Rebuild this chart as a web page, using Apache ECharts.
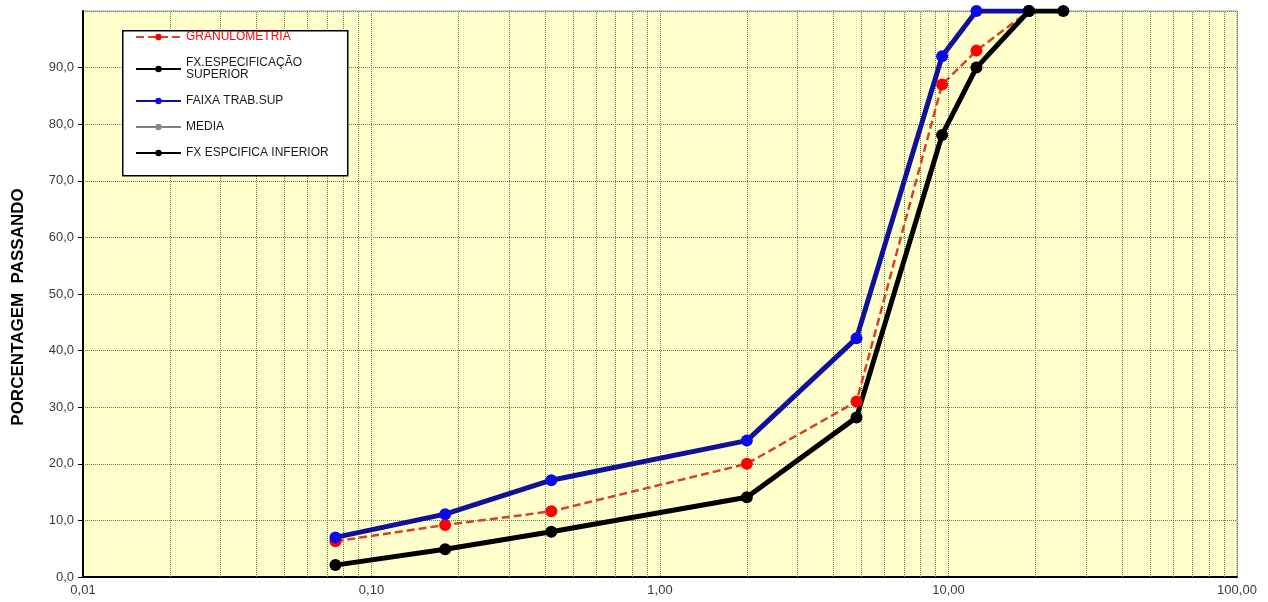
<!DOCTYPE html>
<html><head><meta charset="utf-8">
<script src="https://cdn.jsdelivr.net/npm/echarts@6/dist/echarts.min.js"></script>
<style>html,body{margin:0;padding:0;background:#fff}#c{width:1268px;height:602px}</style>
</head><body><div id="c"></div>
<script>
var sieveSizes = [0.075, 0.18, 0.42, 2.0, 4.8, 9.5, 12.5, 19, 25];
var granulometria = [6.3, 9.2, 11.6, 20.0, 31.0, 87.0, 93.0, 100.0, null];
var fxEspSuperior = [];
var faixaTrabSup = [7.0, 11.1, 17.1, 24.1, 42.2, 92.0, 100.0, 100.0, null];
var media = [];
var fxEspInferior = [2.1, 4.9, 8.0, 14.1, 28.2, 78.1, 90.0, 100.0, 100.0];
var seriesNames = ['GRANULOMETRIA', 'FX.ESPECIFICAÇÃO\nSUPERIOR', 'FAIXA TRAB.SUP', 'MEDIA', 'FX ESPCIFICA INFERIOR'];
var minorMultipliers = [2, 3, 4, 5, 6, 7, 8, 9];
var decades = [0.01, 0.1, 1, 10];

function pairs(vals) {
  var out = [];
  for (var i = 0; i < vals.length; i++) if (vals[i] != null) out.push([sieveSizes[i], vals[i]]);
  return out;
}
var minorLines = [];
decades.forEach(function (d) { minorMultipliers.forEach(function (m) { minorLines.push({ xAxis: +(d * m).toPrecision(3) }); }); });

var gridColor = '#5e7f4e';
var font = 'Liberation Sans, Arial, sans-serif';
var chart = echarts.init(document.getElementById('c'));
chart.setOption({
  animation: false,
  backgroundColor: '#ffffff',
  grid: { left: 83, right: 31, top: 11, bottom: 25, show: true, backgroundColor: '#ffffcc', borderColor: '#a0a0a0', borderWidth: 1, containLabel: false },
  xAxis: {
    type: 'log', logBase: 10, min: 0.01, max: 100,
    axisLine: { show: true, onZero: false, lineStyle: { color: '#000', width: 2 } },
    axisTick: { show: false },
    axisLabel: { color: '#3a3a3a', fontFamily: font, fontSize: 13, margin: 7,
      formatter: function (v) { return v.toFixed(2).replace('.', ','); } },
    splitLine: { show: true, lineStyle: { color: gridColor, type: 'dotted', width: 1 } }
  },
  yAxis: {
    type: 'value', min: 0, max: 100, interval: 10,
    name: 'PORCENTAGEM  PASSANDO', nameLocation: 'middle', nameGap: 56,
    nameTextStyle: { fontFamily: font, fontSize: 17, fontWeight: 'bold', color: '#000', padding: [0, 26, 0, 0] },
    axisLine: { show: true, lineStyle: { color: '#000', width: 2 } },
    axisTick: { show: true, length: 5, lineStyle: { color: '#000' } },
    axisLabel: { color: '#3a3a3a', fontFamily: font, fontSize: 13, margin: 9, showMaxLabel: false,
      formatter: function (v) { return v.toFixed(1).replace('.', ','); } },
    splitLine: { show: true, lineStyle: { color: gridColor, type: 'dotted', width: 1 } }
  },
  graphic: [{ type: 'rect', left: 122, top: 30, z: 10, shape: { width: 225, height: 145 },
    style: { fill: '#ffffff', stroke: '#000000', lineWidth: 1.5 } }],
  legend: {
    orient: 'vertical', left: 135, top: 31, padding: 0, itemGap: 14, z: 11,
    itemWidth: 45, itemHeight: 8,
    textStyle: { fontFamily: font, fontSize: 12, color: '#1a1a1a', lineHeight: 12, padding: [0, 0, 0, 0] },
    data: [
      { name: seriesNames[0], textStyle: { color: '#ff0000' } },
      { name: seriesNames[1] },
      { name: seriesNames[2] },
      { name: seriesNames[3] },
      { name: seriesNames[4] }
    ]
  },
  series: [
    { type: 'line', silent: true, data: [], symbol: 'none', legendHoverLink: false, z: 1,
      markLine: { silent: true, z: 1, symbol: 'none', label: { show: false },
        lineStyle: { color: gridColor, type: 'dotted', width: 1 }, data: minorLines } },
    { name: seriesNames[0], type: 'line', data: pairs(granulometria), symbol: 'circle', symbolSize: 12,
      lineStyle: { color: '#d8402a', width: 2.5, type: [8, 4] }, itemStyle: { color: '#ff0000' } },
    { name: seriesNames[1], type: 'line', data: pairs(fxEspSuperior), symbol: 'circle', symbolSize: 8,
      lineStyle: { color: '#000', width: 2 }, itemStyle: { color: '#000' } },
    { name: seriesNames[2], type: 'line', data: pairs(faixaTrabSup), symbol: 'circle', symbolSize: 12,
      lineStyle: { color: '#10109a', width: 5 }, itemStyle: { color: '#0a0af0' } },
    { name: seriesNames[3], type: 'line', data: pairs(media), symbol: 'circle', symbolSize: 8,
      lineStyle: { color: '#8a7a8a', width: 2 }, itemStyle: { color: '#8a8a8a' } },
    { name: seriesNames[4], type: 'line', data: pairs(fxEspInferior), symbol: 'circle', symbolSize: 12,
      lineStyle: { color: '#000', width: 5 }, itemStyle: { color: '#000' } }
  ]
});
</script></body></html>
